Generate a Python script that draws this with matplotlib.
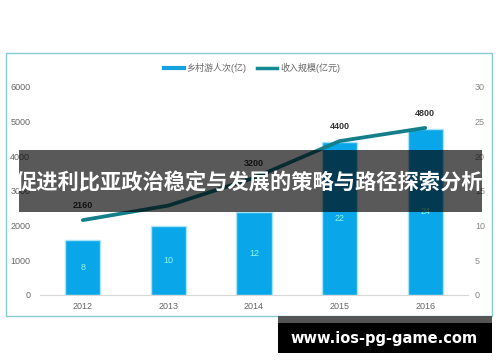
import matplotlib
matplotlib.use("Agg")
import matplotlib.pyplot as plt
from matplotlib.patches import Rectangle
from matplotlib.lines import Line2D

plt.rcParams['font.family'] = ['Liberation Sans', 'Noto Sans CJK SC', 'DejaVu Sans']

# data
years = ['2012', '2013', '2014', '2015', '2016']
visitors = [1600, 2000, 2400, 4400, 4800]        # bars, left axis
income = [10.8, 12.9, 16.9, 22.2, 24.1]           # line, right axis
bar_text = ['8', '10', '12', '22', '24']
line_text = ['2160', '', '3200', '4400', '4800']  # 2013 label hidden by banner
left_ticks = [0, 1000, 2000, 3000, 4000, 5000, 6000]
right_ticks = [0, 5, 10, 15, 20, 25, 30]
series_names = ['乡村游人次(亿)', '收入规模(亿元)']
banner = '促进利比亚政治稳定与发展的策略与路径探索分析'
site = 'www.ios-pg-game.com'

W, H = 500, 362
fig = plt.figure(figsize=(5, 3.62), dpi=100)
fig.patch.set_facecolor('white')

def fx(px):
    return px / W

def fy(py):
    return 1 - py / H

# chart frame
fig.patches.append(Rectangle((fx(6), fy(316)), fx(486), (316 - 53) / H,
                             transform=fig.transFigure, fill=False,
                             edgecolor='#86cbd0', lw=1.0, zorder=0))

ax = fig.add_axes([fx(40), fy(295), fx(428), (295 - 87) / H])
ax2 = ax.twinx()
ax.set_zorder(1)
ax2.set_zorder(2)
ax.patch.set_visible(False)

x = list(range(len(years)))
ax.bar(x, visitors, width=0.41, color='#0aa6ea', edgecolor='#a8e4f6', lw=1.0)
for xi, v, t in zip(x, visitors, bar_text):
    ax.text(xi, v / 2, t, ha='center', va='center', fontsize=6.5,
            color='#8ff5dc')

ax2.plot(x, income, color='#147f8b', lw=2.7, solid_capstyle='round')
for xi, v, t in zip(x, income, line_text):
    if t:
        ax2.annotate(t, (xi, v), xytext=(0, 7), textcoords='offset points',
                     ha='center', va='bottom', fontsize=6.5,
                     fontweight='bold', color='#333333')

ax.set_xlim(-0.5, 4.5)
ax.set_ylim(0, 6000)
ax2.set_ylim(0, 30)
ax.set_xticks(x)
ax.set_xticklabels(years)
ax.set_yticks(left_ticks)
ax2.set_yticks(right_ticks)

for a in (ax, ax2):
    for s in a.spines.values():
        s.set_visible(False)
ax.spines['bottom'].set_visible(True)
ax.spines['bottom'].set_color('#d8d8d8')
ax.tick_params(axis='both', length=0, labelsize=6.5, colors='#666666')
ax.tick_params(axis='y', pad=7)
ax.tick_params(axis='x', pad=5)
ax2.tick_params(axis='y', length=0, labelsize=6.5, colors='#888888', pad=5)

leg = fig.legend([Line2D([], [], color='#14a2dc', lw=3),
                  Line2D([], [], color='#148a94', lw=2.5)], series_names,
                 loc='center', bbox_to_anchor=(fx(252), fy(68)), ncol=2,
                 frameon=False, fontsize=6.5, handlelength=2.2,
                 handletextpad=0.3, columnspacing=1.2)
for t in leg.get_texts():
    t.set_color('#666666')

# title banner over the chart
fig.patches.append(Rectangle((fx(19), fy(212)), fx(463), (212 - 150) / H,
                             transform=fig.transFigure, color='black',
                             alpha=0.65, lw=0, zorder=10))
fig.text(fx(250), fy(183), banner, ha='center', va='center', fontsize=15.3,
         fontweight='bold', color='white', family=['Noto Sans CJK SC'],
         zorder=11)

# site box bottom right
fig.patches.append(Rectangle((fx(278), fy(323)), fx(214), 7 / H,
                             transform=fig.transFigure, color='#555555',
                             lw=0, zorder=10))
fig.patches.append(Rectangle((fx(278), fy(353)), fx(214), 30 / H,
                             transform=fig.transFigure, color='black',
                             lw=0, zorder=10))
fig.text(fx(384), fy(338), site, ha='center', va='center', fontsize=10.5,
         fontweight='bold', color='white', family=['DejaVu Sans'], zorder=11)

fig.savefig('out.png', dpi=100)
